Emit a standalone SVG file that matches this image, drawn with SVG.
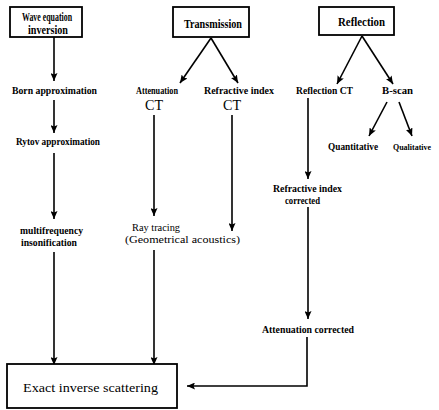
<svg xmlns="http://www.w3.org/2000/svg" width="439" height="410" viewBox="0 0 439 410">
<defs>
<marker id="ah" markerUnits="userSpaceOnUse" markerWidth="9" markerHeight="7" refX="8" refY="3.5" orient="auto">
<path d="M0,0 L8,3.5 L0,7 L1.5,3.5 z" fill="#000"/>
</marker>
<style>
.box{fill:#fff;stroke:#000;stroke-width:1.8}
.t{font-family:"Liberation Serif",serif;font-size:10px;font-weight:bold;fill:#000}
.n{font-weight:normal}
.h{font-family:"Liberation Serif",serif;font-size:12px;font-weight:bold;fill:#000}
.ex{font-family:"Liberation Serif",serif;font-size:13px;font-weight:normal;fill:#000}
.ct{font-family:"Liberation Serif",serif;font-size:15px;fill:#000}
.c{fill:none;stroke:#000;stroke-width:1.6}
.a{marker-end:url(#ah)}
</style>
</defs>
<rect width="439" height="410" fill="#fff"/>
<g id="connectors">
<line class="c a" x1="54" y1="37" x2="54" y2="81"/>
<line class="c a" x1="54" y1="100" x2="54" y2="133"/>
<line class="c a" x1="54" y1="153" x2="54" y2="219"/>
<line class="c a" x1="54" y1="252" x2="54" y2="365"/>
<line class="c a" x1="211" y1="38" x2="180" y2="83"/>
<line class="c a" x1="211" y1="38" x2="238" y2="83"/>
<line class="c a" x1="154" y1="115" x2="154" y2="216"/>
<line class="c a" x1="154" y1="250" x2="154" y2="365"/>
<line class="c a" x1="232" y1="115" x2="232" y2="231"/>
<line class="c a" x1="362" y1="36" x2="337" y2="84"/>
<line class="c a" x1="362" y1="36" x2="393" y2="84"/>
<line class="c a" x1="387" y1="102" x2="369" y2="136"/>
<line class="c a" x1="399" y1="102" x2="412" y2="136"/>
<line class="c a" x1="308" y1="98" x2="308" y2="179"/>
<line class="c a" x1="308" y1="207" x2="308" y2="319"/>
<polyline class="c a" points="307,337 307,386 187,386"/>
</g>
<g id="wave"><rect class="box" x="10" y="7" width="72" height="30"/>
<text class="h" x="22" y="21" textLength="50" lengthAdjust="spacingAndGlyphs">Wave equation</text>
<text class="h" x="28" y="34" textLength="40" lengthAdjust="spacingAndGlyphs">inversion</text></g>
<g id="transmission"><rect class="box" x="173" y="7" width="76" height="30"/>
<text class="h" x="184" y="28" textLength="58" lengthAdjust="spacingAndGlyphs">Transmission</text></g>
<g id="reflection"><rect class="box" x="319" y="7" width="75" height="28"/>
<text class="h" x="338" y="26" textLength="47" lengthAdjust="spacingAndGlyphs">Reflection</text></g>
<g id="born"><text class="t" x="12" y="94" textLength="85" lengthAdjust="spacingAndGlyphs">Born approximation</text></g>
<g id="attenuation"><text class="t" x="136" y="94" style="font-size:11px" textLength="42" lengthAdjust="spacingAndGlyphs">Attenuation</text>
<text class="ct" x="145" y="110" textLength="18" lengthAdjust="spacingAndGlyphs">CT</text></g>
<g id="refractive"><text class="t" x="204" y="94" textLength="70" lengthAdjust="spacingAndGlyphs">Refractive index</text>
<text class="ct" x="223" y="110" textLength="18" lengthAdjust="spacingAndGlyphs">CT</text></g>
<g id="reflectionct"><text class="t" x="296" y="94" textLength="57" lengthAdjust="spacingAndGlyphs">Reflection CT</text></g>
<g id="bscan"><text class="t" x="382" y="94" textLength="31" lengthAdjust="spacingAndGlyphs">B-scan</text></g>
<g id="quantitative"><text class="t" x="328" y="150" textLength="50" lengthAdjust="spacingAndGlyphs">Quantitative</text></g>
<g id="qualitative"><text class="t" x="393" y="150" style="font-size:9px" textLength="38" lengthAdjust="spacingAndGlyphs">Qualitative</text></g>
<g id="rytov"><text class="t" x="16" y="145" textLength="84" lengthAdjust="spacingAndGlyphs">Rytov approximation</text></g>
<g id="multi"><text class="t" x="20" y="234" textLength="63" lengthAdjust="spacingAndGlyphs">multifrequency</text>
<text class="t" x="21" y="246" textLength="56" lengthAdjust="spacingAndGlyphs">insonification</text></g>
<g id="raytracing"><text class="t n" x="132" y="231" textLength="48" lengthAdjust="spacingAndGlyphs">Ray tracing</text>
<text class="t n" x="125" y="243" textLength="115" lengthAdjust="spacingAndGlyphs">(Geometrical acoustics)</text></g>
<g id="ricorrected"><text class="t" x="273" y="192" textLength="69" lengthAdjust="spacingAndGlyphs">Refractive index</text>
<text class="t" x="285" y="204" textLength="35" lengthAdjust="spacingAndGlyphs">corrected</text></g>
<g id="attcorrected"><text class="t" x="262" y="333" textLength="92" lengthAdjust="spacingAndGlyphs">Attenuation corrected</text></g>
<g id="exact"><rect class="box" x="7" y="364" width="170" height="44"/>
<text class="ex" x="23" y="392" textLength="135" lengthAdjust="spacingAndGlyphs">Exact inverse scattering</text></g>
</svg>
